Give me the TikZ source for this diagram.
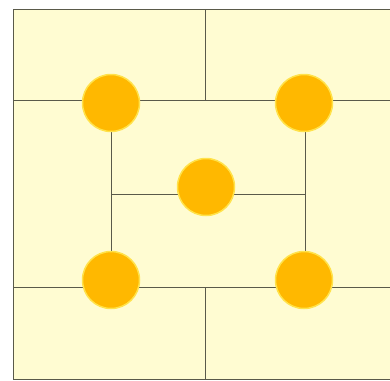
\documentclass[tikz,border=0pt]{standalone}
\usetikzlibrary{positioning}

\definecolor{paper}{HTML}{FFFCD2}
\definecolor{pegfill}{HTML}{FFB800}
\definecolor{pegrim}{HTML}{FFE24A}
\definecolor{rule}{HTML}{5A5A4A}

\tikzset{
  peg/.style={circle, fill=pegfill, draw=pegrim, line width=1.5pt, minimum size=57pt, inner sep=0pt},
  wall/.style={draw=rule, line width=1pt}
}

\begin{document}
\begin{tikzpicture}[x=1pt, y=-1pt]
    \useasboundingbox (0,0) rectangle (390,380);

    % Board
    \fill[paper] (13,9) rectangle (390,379);
    \draw[wall] (390,9) -- (13,9) -- (13,379) -- (390,379);

    % Grid points
    \coordinate (topmid) at (205,9);
    \coordinate (rowa-l) at (13,100);
    \coordinate (rowa-m) at (205,100);
    \coordinate (rowa-r) at (390,100);
    \coordinate (rowb-l) at (13,287);
    \coordinate (rowb-m) at (205,287);
    \coordinate (rowb-r) at (390,287);
    \coordinate (botmid) at (205,379);
    \coordinate (cola-t) at (111,100);
    \coordinate (cola-b) at (111,287);
    \coordinate (colb-t) at (305,100);
    \coordinate (colb-b) at (305,287);
    \coordinate (mid-l) at (111,194);
    \coordinate (mid-r) at (305,194);

    % Walls
    \draw[wall] (topmid) -- (rowa-m);
    \draw[wall] (rowa-l) -- (rowa-r);
    \draw[wall] (rowb-l) -- (rowb-r);
    \draw[wall] (rowb-m) -- (botmid);
    \draw[wall] (cola-t) -- (cola-b);
    \draw[wall] (colb-t) -- (colb-b);
    \draw[wall] (mid-l) -- (mid-r);

    % Pegs
    \node[peg] (pegnw) at (111,103) {};
    \node[peg] (pegne) at (304,103) {};
    \node[peg] (pegc) at (206,187) {};
    \node[peg] (pegsw) at (111,280) {};
    \node[peg] (pegse) at (304,280) {};
\end{tikzpicture}
\end{document}
